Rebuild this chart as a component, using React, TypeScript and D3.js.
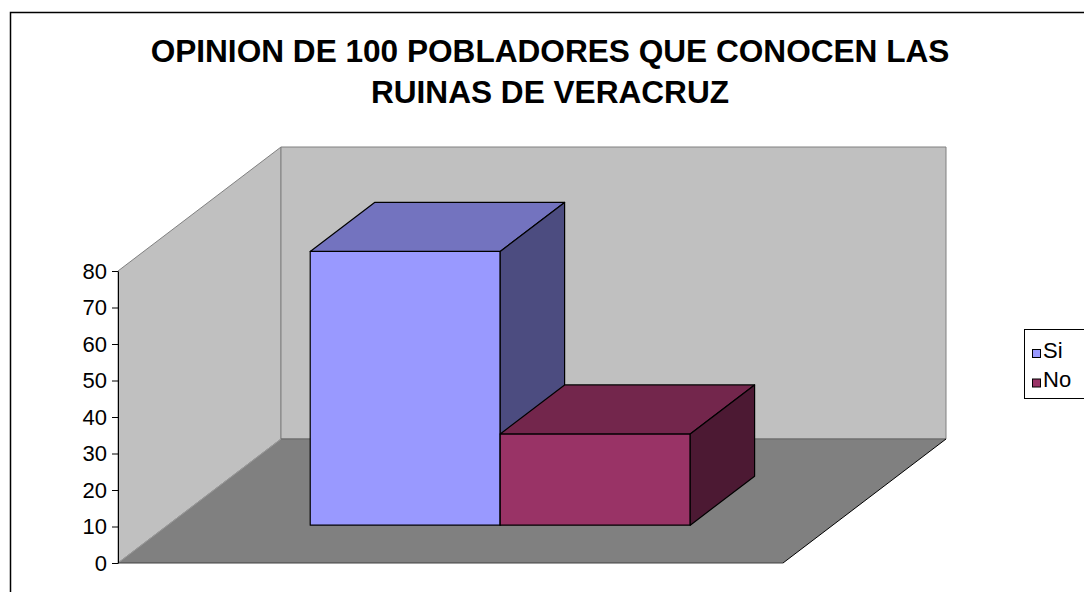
import { useRef, useEffect } from "react";
import * as d3 from "d3";

const titleLines = ["OPINION DE 100 POBLADORES QUE CONOCEN LAS", "RUINAS DE VERACRUZ"];
const series = ["Si", "No"];
const values = [75, 25];
const yTicks = [0, 10, 20, 30, 40, 50, 60, 70, 80];

// face shades per series: front, top, side
const faceColors: Record<string, { front: string; top: string; side: string }> = {
  Si: { front: "#9999FF", top: "#7373BF", side: "#4C4C80" },
  No: { front: "#993366", top: "#73264C", side: "#4C1933" },
};

const FONT = "'Liberation Sans', Arial, sans-serif";

export default function App() {
  const svgRef = useRef<SVGSVGElement>(null);

  useEffect(() => {
    const width = 1084;
    const height = 592;

    const svg = d3.select(svgRef.current)
      .attr("width", width)
      .attr("height", height);
    svg.selectAll("*").remove();

    // outer chart border (cut off by the window on right/bottom)
    svg.append("rect")
      .attr("x", 10.5).attr("y", 12.5)
      .attr("width", 1100).attr("height", 600)
      .attr("fill", "#fff").attr("stroke", "#000").attr("stroke-width", 1.5);

    // title
    svg.append("g")
      .selectAll("text")
      .data(titleLines)
      .join("text")
      .attr("x", 550)
      .attr("y", (d, i) => 62 + i * 40.5)
      .attr("text-anchor", "middle")
      .style("font-family", FONT)
      .style("font-weight", "bold")
      .style("font-size", "31.6px")
      .text(d => d);

    // front plane of the floor + oblique depth offset
    const x0 = 118, x1 = 783;
    const depth = { dx: 163, dy: -124 };
    const y = d3.scaleLinear().domain([0, 80]).range([563, 271]);
    const x = d3.scaleBand().domain(series).range([x0, x1]).paddingInner(0).paddingOuter(0.75);
    const zFront = 0.305, zBack = 0.7;

    const proj = (px: number, v: number, z: number): [number, number] =>
      [px + z * depth.dx, y(v) + z * depth.dy];
    const poly = (pts: [number, number][]) => "M" + pts.map(p => p.join(",")).join("L") + "Z";
    const line = d3.line();

    const yMax = y.domain()[1];

    // walls
    svg.append("path")
      .attr("d", poly([proj(x0, 0, 0), proj(x0, yMax, 0), proj(x0, yMax, 1), proj(x0, 0, 1)]))
      .attr("fill", "#C0C0C0").attr("stroke", "#808080");
    svg.append("path")
      .attr("d", poly([proj(x0, 0, 1), proj(x0, yMax, 1), proj(x1, yMax, 1), proj(x1, 0, 1)]))
      .attr("fill", "#C0C0C0").attr("stroke", "#808080");

    // floor
    svg.append("path")
      .attr("d", poly([proj(x0, 0, 0), proj(x1, 0, 0), proj(x1, 0, 1), proj(x0, 0, 1)]))
      .attr("fill", "#808080").attr("stroke", "none");
    svg.append("path")
      .attr("d", line([proj(x0, 0, 1), proj(x1, 0, 1)]))
      .attr("stroke", "#666").attr("fill", "none");
    svg.append("path")
      .attr("d", line([proj(x0, 0, 0), proj(x0, 0, 1)]))
      .attr("stroke", "#999").attr("fill", "none");
    svg.append("path")
      .attr("d", line([proj(x0, 0, 0), proj(x1, 0, 0)]))
      .attr("stroke", "#404040").attr("fill", "none");
    svg.append("path")
      .attr("d", line([proj(x1, 0, 0), proj(x1, 0, 1)]))
      .attr("stroke", "#000").attr("fill", "none");

    // bars
    const bw = x.bandwidth();
    const bars = svg.append("g");
    series.forEach((s, i) => {
      const a = x(s)!;
      const b = a + bw;
      const v = values[i];
      const c = faceColors[s];
      const faces = [
        { pts: [proj(a, 0, zFront), proj(b, 0, zFront), proj(b, v, zFront), proj(a, v, zFront)], fill: c.front },
        { pts: [proj(a, v, zFront), proj(b, v, zFront), proj(b, v, zBack), proj(a, v, zBack)], fill: c.top },
        { pts: [proj(b, 0, zFront), proj(b, 0, zBack), proj(b, v, zBack), proj(b, v, zFront)], fill: c.side },
      ];
      bars.append("g")
        .selectAll("path")
        .data(faces)
        .join("path")
        .attr("d", d => poly(d.pts as [number, number][]))
        .attr("fill", d => d.fill)
        .attr("stroke", "#000")
        .attr("stroke-width", 1.2)
        .attr("stroke-linejoin", "round");
    });

    // y axis
    const axis = svg.append("g")
      .attr("transform", `translate(${x0},0)`)
      .call(d3.axisLeft(y).tickValues(yTicks).tickSize(6).tickSizeOuter(0).tickPadding(5));
    axis.select(".domain").attr("stroke", "#000");
    axis.selectAll(".tick line").attr("stroke", "#000");
    axis.selectAll("text")
      .style("font-family", FONT)
      .style("font-size", "22px")
      .attr("fill", "#000");

    // legend
    const legend = svg.append("g");
    legend.append("rect")
      .attr("x", 1024.5).attr("y", 329.5)
      .attr("width", 100).attr("height", 69)
      .attr("fill", "#fff").attr("stroke", "#000");
    const items = legend.selectAll("g.item")
      .data(series)
      .join("g")
      .attr("class", "item")
      .attr("transform", (d, i) => `translate(1032,${349 + i * 29.5})`);
    items.append("rect")
      .attr("x", 0.5).attr("y", 0.5)
      .attr("width", 8).attr("height", 8)
      .attr("fill", d => faceColors[d].front)
      .attr("stroke", "#000");
    items.append("text")
      .attr("x", 11).attr("y", 8.5)
      .style("font-family", FONT)
      .style("font-size", "22px")
      .text(d => d);
  }, []);

  return (
    <svg ref={svgRef} style={{ position: "absolute", left: 0, top: 0, display: "block" }}></svg>
  );
}
